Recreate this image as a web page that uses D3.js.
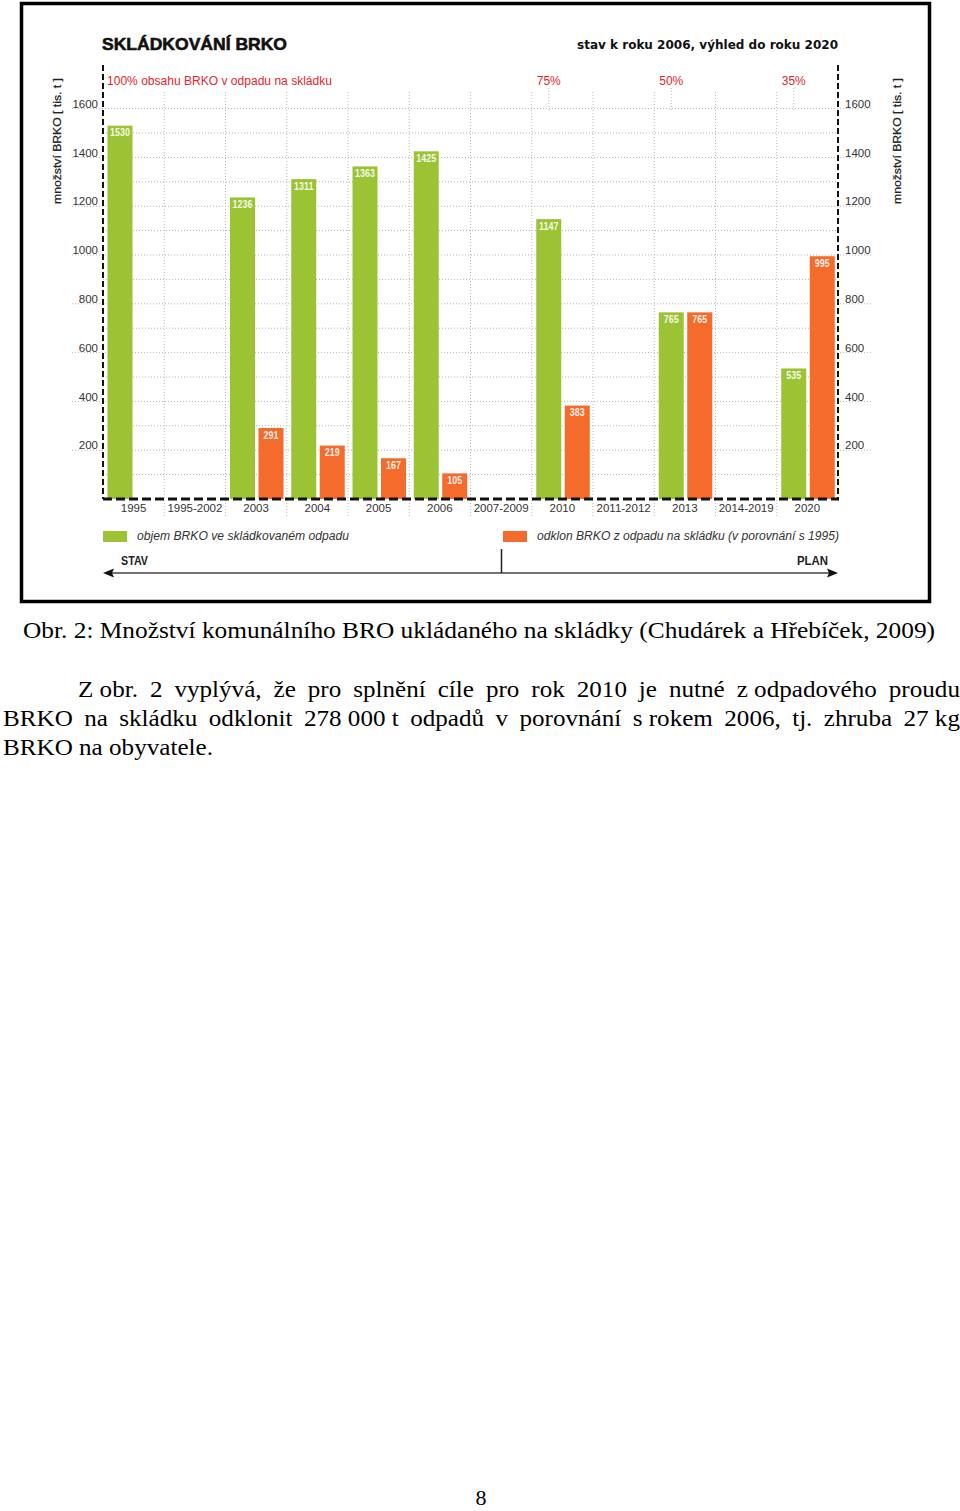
<!DOCTYPE html>
<html>
<head>
<meta charset="utf-8">
<script src="https://cdn.jsdelivr.net/npm/d3@7/dist/d3.min.js"></script>
<style>
  html, body { margin: 0; padding: 0; background: #fff; }
  svg { display: block; }
</style>
</head>
<body>
<svg id="page" width="960" height="1511"></svg>
<script>
// ---------------- DATA ----------------
const categories = ["1995", "1995-2002", "2003", "2004", "2005", "2006", "2007-2009", "2010", "2011-2012", "2013", "2014-2019", "2020"];
const greenValues = [1530, null, 1236, 1311, 1363, 1425, null, 1147, null, 765, null, 535];
const orangeValues = [null, null, 291, 219, 167, 105, null, 383, null, 765, null, 995];
const yTickValues = [200, 400, 600, 800, 1000, 1200, 1400, 1600];
const targetCategories = ["2010", "2013", "2020"];
const targetLabels = ["75%", "50%", "35%"];
const firstTarget = "100% obsahu BRKO v odpadu na skládku";
const chartTitle = "SKLÁDKOVÁNÍ BRKO";
const chartSubtitle = "stav k roku 2006, výhled do roku 2020";
const yAxisTitle = "množství BRKO [ tis. t ]";
const legendLabels = ["objem BRKO ve skládkovaném odpadu", "odklon BRKO z odpadu na skládku (v porovnání s 1995)"];
const arrowLabels = ["STAV", "PLAN"];
const caption = "Obr. 2: Množství komunálního BRO ukládaného na skládky (Chudárek a Hřebíček, 2009)";
const paragraphLines = [
  ["Z obr.", "2", "vyplývá,", "že", "pro", "splnění", "cíle", "pro", "rok", "2010", "je", "nutné", "z\u00a0odpadového", "proudu"],
  ["BRKO", "na", "skládku", "odklonit", "278\u00a0000\u00a0t", "odpadů", "v", "porovnání", "s\u00a0rokem", "2006,", "tj.", "zhruba", "27\u00a0kg"],
  ["BRKO na obyvatele."]
];
const pageNumber = "8";

// ---------------- STYLE ----------------
const GREEN = "#9cc334";
const ORANGE = "#f46b2b";
const RED = "#e3262b";
const SANS = "'Liberation Sans', Arial, sans-serif";
const SERIF = "'Liberation Serif', 'Times New Roman', serif";

const svg = d3.select("#page");

// frame
svg.append("rect").attr("x", 21.5).attr("y", 3.5).attr("width", 908).attr("height", 598)
  .attr("fill", "#fff").attr("stroke", "#000").attr("stroke-width", 3.5);

// scales
const x = d3.scaleBand().domain(categories).range([103, 838]).paddingInner(0).paddingOuter(0);
const xSub = d3.scaleBand().domain(["g", "o"]).range([4.5, 58]).paddingInner(3.5 / 28.5).paddingOuter(0);
const y = d3.scaleLinear().domain([0, 1600]).range([499, 108.6]);

const chart = svg.append("g");

// horizontal dotted grid
const gridVals = d3.range(100, 1601, 100);
chart.append("g").selectAll("line").data(gridVals).join("line")
  .attr("x1", d => d % 200 === 0 ? 72 : 103)
  .attr("x2", d => d % 200 === 0 ? 872 : 838)
  .attr("y1", d => y(d)).attr("y2", d => y(d))
  .attr("stroke", "#b3b3b3").attr("stroke-width", 1).attr("stroke-dasharray", "1,2");

// vertical dotted grid at band boundaries
const boundaries = categories.slice(1).map(c => x(c));
chart.append("g").selectAll("line").data(boundaries).join("line")
  .attr("x1", d => d).attr("x2", d => d)
  .attr("y1", 92).attr("y2", 516)
  .attr("stroke", "#b8b8b8").attr("stroke-width", 1).attr("stroke-dasharray", "1,2");

// vertical dotted lines under target labels
chart.append("g").selectAll("line").data(targetCategories).join("line")
  .attr("x1", d => x(d) + xSub("g") + xSub.bandwidth() / 2)
  .attr("x2", d => x(d) + xSub("g") + xSub.bandwidth() / 2)
  .attr("y1", 88).attr("y2", 110)
  .attr("stroke", "#b8b8b8").attr("stroke-width", 1).attr("stroke-dasharray", "1,2");

// bars
const greenData = categories.map((c, i) => ({c, v: greenValues[i]})).filter(d => d.v != null);
const orangeData = categories.map((c, i) => ({c, v: orangeValues[i]})).filter(d => d.v != null);

chart.append("g").selectAll("rect").data(greenData).join("rect")
  .attr("x", d => x(d.c) + xSub("g")).attr("width", xSub.bandwidth())
  .attr("y", d => y(d.v)).attr("height", d => y(0) - y(d.v))
  .attr("fill", GREEN);
chart.append("g").selectAll("rect").data(orangeData).join("rect")
  .attr("x", d => x(d.c) + xSub("o")).attr("width", xSub.bandwidth())
  .attr("y", d => y(d.v)).attr("height", d => y(0) - y(d.v))
  .attr("fill", ORANGE);

// value labels
function valueLabels(data, key) {
  chart.append("g").selectAll("text").data(data).join("text")
    .attr("x", d => x(d.c) + xSub(key) + xSub.bandwidth() / 2)
    .attr("y", d => y(d.v) + 8)
    .attr("text-anchor", "middle").attr("dominant-baseline", "middle")
    .attr("font-family", SANS).attr("font-size", 10.5).attr("font-weight", "bold")
    .attr("fill", "#fff").attr("fill-opacity", 0.92)
    .attr("transform", d => {
      const cx = x(d.c) + xSub(key) + xSub.bandwidth() / 2;
      return `translate(${cx},0) scale(0.85,1) translate(${-cx},0)`;
    })
    .text(d => d.v);
}
valueLabels(greenData, "g");
valueLabels(orangeData, "o");

// dashed axes
chart.append("line").attr("x1", 103).attr("x2", 103).attr("y1", 65).attr("y2", 499)
  .attr("stroke", "#111").attr("stroke-width", 2).attr("stroke-dasharray", "6,3");
chart.append("line").attr("x1", 838).attr("x2", 838).attr("y1", 65).attr("y2", 499)
  .attr("stroke", "#111").attr("stroke-width", 2).attr("stroke-dasharray", "6,3");
chart.append("line").attr("x1", 103).attr("x2", 839).attr("y1", y(0)).attr("y2", y(0))
  .attr("stroke", "#111").attr("stroke-width", 3).attr("stroke-dasharray", "9,4");

// y tick labels (via axis generator, then styled)
const fmt = d3.format("d");
const leftAxis = d3.axisLeft(y).tickValues(yTickValues).tickFormat(fmt).tickSize(0).tickPadding(0);
const gl = chart.append("g").attr("transform", "translate(98,-5)").call(leftAxis);
gl.select(".domain").remove();
gl.selectAll("text").attr("font-family", SANS).attr("font-size", 11.5).attr("fill", "#333");
const rightAxis = d3.axisRight(y).tickValues(yTickValues).tickFormat(fmt).tickSize(0).tickPadding(0);
const gr = chart.append("g").attr("transform", "translate(845,-5)").call(rightAxis);
gr.select(".domain").remove();
gr.selectAll("text").attr("font-family", SANS).attr("font-size", 11.5).attr("fill", "#333");

// x labels
const bottomAxis = d3.axisBottom(x).tickSize(0).tickPadding(0);
const gb = chart.append("g").attr("transform", "translate(0,504)").call(bottomAxis);
gb.select(".domain").remove();
gb.selectAll("text").attr("font-family", SANS).attr("font-size", 11.5).attr("fill", "#333")
  .attr("dy", "0.71em");

// y axis titles
[57, 897].forEach(cx => {
  chart.append("text")
    .attr("transform", `translate(${cx + 4},141) rotate(-90)`)
    .attr("text-anchor", "middle")
    .attr("font-family", SANS).attr("font-size", 11.5).attr("fill", "#222")
    .attr("stroke", "#222").attr("stroke-width", 0.25)
    .attr("textLength", 126).attr("lengthAdjust", "spacingAndGlyphs")
    .text(yAxisTitle);
});

// titles
chart.append("text").attr("x", 102).attr("y", 50)
  .attr("font-family", SANS).attr("font-weight", "bold").attr("font-size", 17).attr("fill", "#111")
  .attr("stroke", "#111").attr("stroke-width", 0.6)
  .attr("textLength", 185).attr("lengthAdjust", "spacingAndGlyphs")
  .text(chartTitle);
chart.append("text").attr("x", 577).attr("y", 49)
  .attr("font-family", "'DejaVu Sans', Verdana, sans-serif").attr("font-weight", "bold").attr("font-size", 11.5).attr("fill", "#111")
  .attr("textLength", 261).attr("lengthAdjust", "spacingAndGlyphs")
  .text(chartSubtitle);

// target labels
chart.append("text").attr("x", 107).attr("y", 85)
  .attr("font-family", SANS).attr("font-size", 12).attr("fill", RED)
  .attr("textLength", 225).attr("lengthAdjust", "spacingAndGlyphs")
  .text(firstTarget);
chart.append("g").selectAll("text").data(targetCategories).join("text")
  .attr("x", d => x(d) + xSub("g") + xSub.bandwidth() / 2)
  .attr("y", 85).attr("text-anchor", "middle")
  .attr("font-family", SANS).attr("font-size", 12).attr("fill", RED)
  .text((d, i) => targetLabels[i]);

// legend
const legendItems = [
  {color: GREEN, label: legendLabels[0], x: 103, tx: 137, w: 212},
  {color: ORANGE, label: legendLabels[1], x: 503, tx: 537, w: 302}
];
legendItems.forEach(it => {
  chart.append("rect").attr("x", it.x).attr("y", 531).attr("width", 24).attr("height", 11).attr("fill", it.color);
  chart.append("text").attr("x", it.tx).attr("y", 540)
    .attr("font-family", SANS).attr("font-style", "italic").attr("font-size", 12).attr("fill", "#333")
    .attr("textLength", it.w).attr("lengthAdjust", "spacingAndGlyphs")
    .text(it.label);
});

// STAV / PLAN arrow
chart.append("line").attr("x1", 110).attr("x2", 831).attr("y1", 573).attr("y2", 573)
  .attr("stroke", "#444").attr("stroke-width", 1.5);
chart.append("path").attr("d", "M103,573 L114,568.5 L112,573 L114,577.5 Z").attr("fill", "#111");
chart.append("path").attr("d", "M838,573 L827,568.5 L829,573 L827,577.5 Z").attr("fill", "#111");
chart.append("line").attr("x1", 501.5).attr("x2", 501.5).attr("y1", 549).attr("y2", 573)
  .attr("stroke", "#222").attr("stroke-width", 1.5);
chart.append("text").attr("x", 121).attr("y", 565)
  .attr("font-family", SANS).attr("font-weight", "bold").attr("font-size", 12).attr("fill", "#222")
  .attr("textLength", 27).attr("lengthAdjust", "spacingAndGlyphs").text(arrowLabels[0]);
chart.append("text").attr("x", 797).attr("y", 565)
  .attr("font-family", SANS).attr("font-weight", "bold").attr("font-size", 12).attr("fill", "#222")
  .attr("textLength", 31).attr("lengthAdjust", "spacingAndGlyphs").text(arrowLabels[1]);

// ---------------- document text ----------------
const FS = 23;
svg.append("text").attr("x", 23).attr("y", 638)
  .attr("font-family", SERIF).attr("font-size", FS).attr("fill", "#000")
  .attr("textLength", 912).attr("lengthAdjust", "spacingAndGlyphs")
  .text(caption);

// measure horizontal stretch from last (unjustified) line
const probe = svg.append("text").attr("font-family", SERIF).attr("font-size", FS).text(paragraphLines[2][0]);
const sx = 210 / probe.node().getComputedTextLength();
probe.remove();

function placeLine(words, x0, x1, yb, justify) {
  const g = svg.append("g");
  const nodes = words.map(w => g.append("text").attr("font-family", SERIF).attr("font-size", FS).attr("fill", "#000").text(w));
  const widths = nodes.map(n => n.node().getComputedTextLength() * sx);
  const total = d3.sum(widths);
  const gap = justify && words.length > 1 ? (x1 - x0 - total) / (words.length - 1) : 0;
  let cx = x0;
  nodes.forEach((n, i) => {
    n.attr("transform", `translate(${cx},${yb}) scale(${sx},1)`);
    cx += widths[i] + gap;
  });
}
placeLine(paragraphLines[0], 78, 960, 697, true);
placeLine(paragraphLines[1], 3, 960, 726, true);
placeLine(paragraphLines[2], 3, 960, 755, false);

svg.append("text").attr("x", 481).attr("y", 1505).attr("text-anchor", "middle")
  .attr("font-family", SERIF).attr("font-size", 22).attr("fill", "#000").text(pageNumber);
</script>
</body>
</html>
